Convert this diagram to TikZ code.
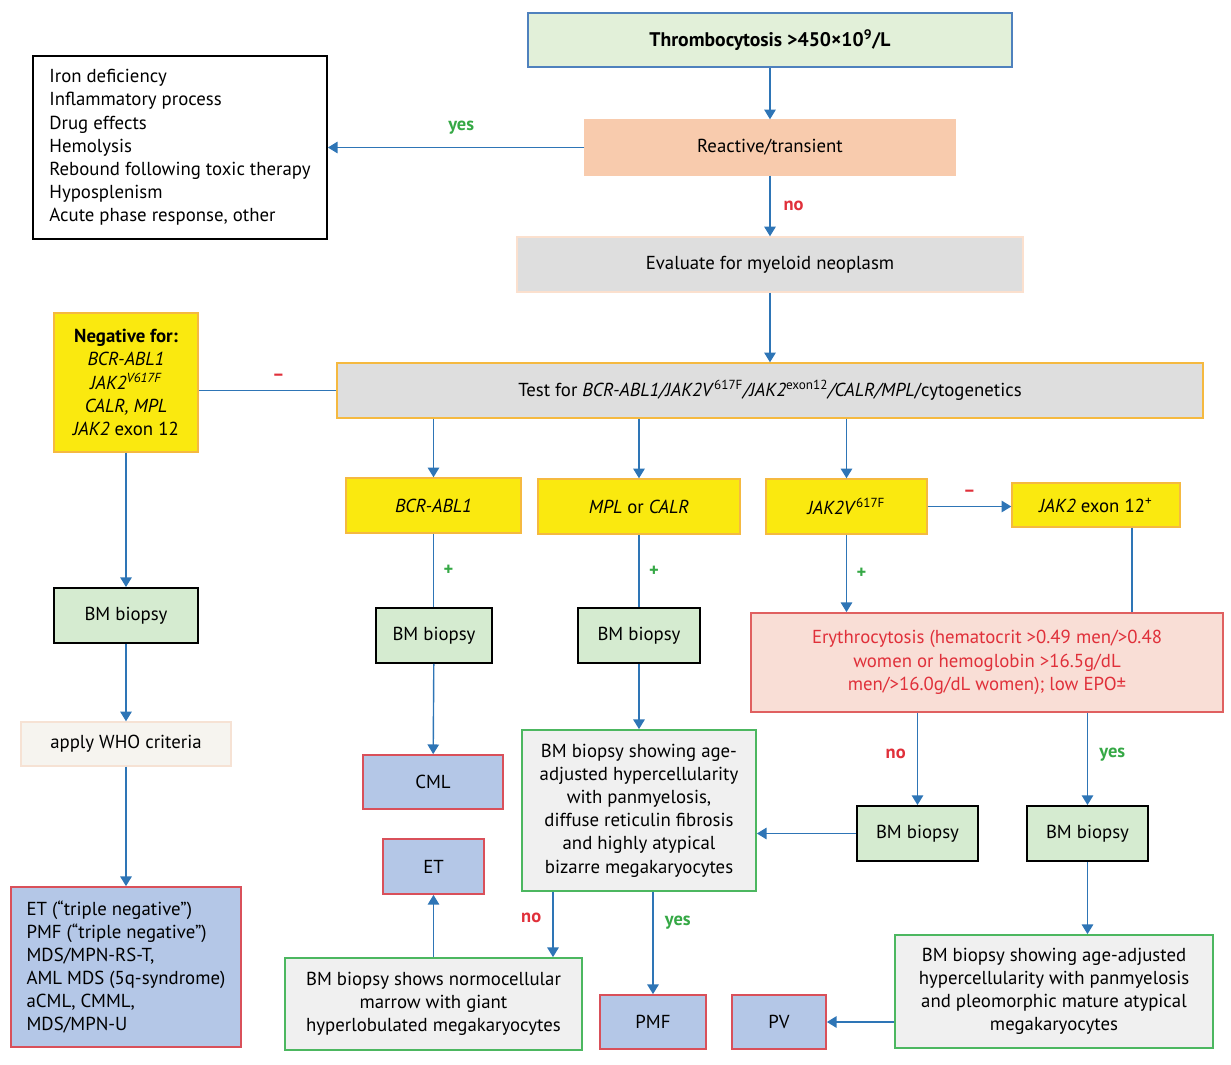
\documentclass[tikz,border=0pt]{standalone}
\usepackage{fontspec}
\setmainfont{PT Sans}
\usetikzlibrary{arrows.meta,calc}
\definecolor{arrblue}{HTML}{2E75B6}
\definecolor{lblred}{HTML}{E0303A}
\definecolor{lblgreen}{HTML}{35A845}
\definecolor{thrfill}{HTML}{E2F0D9}
\definecolor{thrline}{HTML}{4F81BD}
\definecolor{peach}{HTML}{F8CBAD}
\definecolor{greyfill}{HTML}{DEDEDE}
\definecolor{yelfill}{HTML}{FAE90F}
\definecolor{yelline}{HTML}{F5B940}
\definecolor{bmfill}{HTML}{D5EBD0}
\definecolor{eryfill}{HTML}{F9DED6}
\definecolor{eryline}{HTML}{E06060}
\definecolor{dxfill}{HTML}{B4C7E7}
\definecolor{dxline}{HTML}{D9505A}
\definecolor{histfill}{HTML}{F0F0F0}
\definecolor{histline}{HTML}{4CB760}
\definecolor{whofill}{HTML}{F6F4EF}
\definecolor{wholine}{HTML}{F6E2D4}
\begin{document}
\begin{tikzpicture}[x=0.02cm,y=-0.02cm,
    font=\fontsize{10.7}{13.2}\selectfont,
    box/.style={draw,line width=0.8pt,inner sep=2pt,align=center},
    gene/.style={box,fill=yelfill,draw=yelline},
    bmbox/.style={box,fill=bmfill,draw=black,line width=1.1pt,minimum height=1.1cm},
    dxbox/.style={box,fill=dxfill,draw=dxline,line width=1pt},
    histbox/.style={box,fill=histfill,draw=histline,line width=1pt},
    arr/.style={draw=arrblue,line width=0.8pt,-{Triangle[length=5.5pt,width=6.5pt]}},
    con/.style={draw=arrblue,line width=0.8pt},
    lblno/.style={text=lblred,font=\fontsize{10.5}{12}\selectfont\bfseries},
    lblyes/.style={text=lblgreen,font=\fontsize{10.5}{12}\selectfont\bfseries},
    sign/.style={font=\fontsize{10.5}{12}\selectfont\bfseries}]
\useasboundingbox (0,0) rectangle (1231,1065);

% top of the chart
\node[box,fill=thrfill,draw=thrline,minimum width=9.68cm,minimum height=1.08cm,font=\fontsize{11.2}{13}\selectfont\bfseries] (thromb) at (770,40) {Thrombocytosis >450×10\textsuperscript{9}/L};
\node[box,fill=peach,draw=peach,minimum width=7.4cm,minimum height=1.1cm] (reactive) at (770,147.5) {Reactive/transient};
\node[box,draw=black,line width=1pt,minimum width=5.88cm,minimum height=3.66cm,align=left] (causes) at (180,147.5) {Iron deficiency\\Inflammatory process\\Drug effects\\Hemolysis\\Rebound following toxic therapy\\Hyposplenism\\Acute phase response, other};
\node[box,fill=greyfill,draw=peach!60,minimum width=10.12cm,minimum height=1.1cm] (evaluate) at (770,264.5) {Evaluate for myeloid neoplasm};
\node[box,fill=greyfill,draw=yelline,minimum width=17.32cm,minimum height=1.1cm] (test) at (770,390.5) {Test for \textit{BCR-ABL1/JAK2V}\textsuperscript{617F}\textit{/JAK2}\textsuperscript{exon12}\textit{/CALR/MPL}/cytogenetics};

% gene results
\node[gene,minimum width=2.88cm,minimum height=2.78cm] (neg) at (126,382.5) {\textbf{Negative for:}\\\textit{BCR-ABL1}\\\textit{JAK2\textsuperscript{V617F}}\\\textit{CALR, MPL}\\\textit{JAK2} exon 12};
\node[gene,minimum width=3.5cm,minimum height=1.1cm] (bcr) at (433.5,505.5) {\textit{BCR-ABL1}};
\node[gene,minimum width=4.04cm,minimum height=1.1cm] (mpl) at (639,506.5) {\textit{MPL} or \textit{CALR}};
\node[gene,minimum width=3.22cm,minimum height=1.1cm] (jak) at (846.5,506.5) {\textit{JAK2V}\textsuperscript{617F}};
\node[gene,minimum width=3.36cm,minimum height=0.88cm] (exon) at (1096,505) {\textit{JAK2} exon 12\textsuperscript{+}};

% biopsies
\node[bmbox,minimum width=2.88cm] (bmneg) at (126,615.5) {BM biopsy};
\node[bmbox,minimum width=2.32cm] (bmbcr) at (434,635.5) {BM biopsy};
\node[bmbox,minimum width=2.44cm] (bmmpl) at (639,635.5) {BM biopsy};
\node[box,fill=eryfill,draw=eryline,line width=1pt,text=lblred,minimum width=9.44cm,minimum height=1.98cm] (ery) at (987,662.5) {Erythrocytosis (hematocrit >0.49 men/>0.48\\women or hemoglobin >16.5g/dL\\men/>16.0g/dL women); low EPO±};
\node[box,fill=whofill,draw=wholine,minimum width=4.2cm,minimum height=0.88cm] (who) at (126,744) {apply WHO criteria};
\node[bmbox,minimum width=2.42cm] (bmno) at (917.5,833.5) {BM biopsy};
\node[bmbox,minimum width=2.42cm] (bmyes) at (1087.5,833.5) {BM biopsy};

% findings and diagnoses
\node[histbox,minimum width=4.68cm,minimum height=3.22cm] (pmfhist) at (639,810.5) {BM biopsy showing age-\\adjusted hypercellularity\\with panmyelosis,\\diffuse reticulin fibrosis\\and highly atypical\\bizarre megakaryocytes};
\node[histbox,minimum width=5.94cm,minimum height=1.84cm] (ethist) at (433.5,1004) {BM biopsy shows normocellular\\marrow with giant\\hyperlobulated megakaryocytes};
\node[histbox,minimum width=6.36cm,minimum height=2.26cm] (pvhist) at (1054,991.5) {BM biopsy showing age-adjusted\\hypercellularity with panmyelosis\\and pleomorphic mature atypical\\megakaryocytes};
\node[dxbox,minimum width=2.8cm,minimum height=1.08cm] (cml) at (433,782) {CML};
\node[dxbox,minimum width=2.02cm,minimum height=1.1cm] (et) at (433.5,866.5) {ET};
\node[dxbox,minimum width=2.12cm,minimum height=1.08cm] (pmf) at (653,1022) {PMF};
\node[dxbox,minimum width=1.88cm,minimum height=1.08cm] (pv) at (779,1022) {PV};
\node[dxbox,minimum width=4.6cm,minimum height=3.2cm,align=left] (dxneg) at (126,967) {ET (“triple negative”)\\PMF (“triple negative”)\\MDS/MPN-RS-T,\\AML MDS (5q-syndrome)\\aCML, CMML,\\MDS/MPN-U};

\coordinate (xno) at (553,0);

% connectors
\draw[arr] (thromb) -- (reactive);
\draw[arr] (reactive) -- node[lblno,right,xshift=4pt] (noA) {no} (evaluate);
\draw[arr] (reactive.west) -- node[lblyes,above,pos=0.48,yshift=4pt] (yesA) {yes} (causes.east);
\draw[arr] (evaluate) -- (test);
\draw[con] (test.west) -- node[sign,text=lblred,above,yshift=2pt,pos=0.42] (minA) {–} (test.west -| neg.east);
\draw[arr] (neg) -- (bmneg);
\draw[arr] (bcr.north |- test.south) -- (bcr.north);
\draw[arr] (mpl.north |- test.south) -- (mpl.north);
\draw[arr] (jak.north |- test.south) -- (jak.north);
\draw[arr] (jak.east) -- node[sign,text=lblred,above,yshift=2pt] (minB) {–} (jak.east -| exon.west);
\draw[con] (bcr.south) -- node[sign,text=lblgreen,right,xshift=2pt] (plA) {+} (bcr.south |- bmbcr.north);
\draw[con] (mpl.south) -- node[sign,text=lblgreen,right,xshift=2pt] (plB) {+} (bmmpl.north);
\draw[arr] (jak.south) -- node[sign,text=lblgreen,right,xshift=2pt] (plC) {+} (jak.south |- ery.north);
\draw[con] ([xshift=0.72cm]exon.south) -- ([xshift=0.72cm]exon.south |- ery.north);
\draw[arr] (bmneg) -- (who);
\draw[arr] (who) -- (dxneg);
\draw[arr] (bmbcr) -- (cml);
\draw[arr] (bmmpl) -- (pmfhist);
\draw[arr] (bmno.north |- ery.south) -- node[lblno,left,xshift=-3pt,pos=0.45] (noB) {no} (bmno.north);
\draw[arr] (bmyes.north |- ery.south) -- node[lblyes,right,xshift=3pt,pos=0.45] (yesB) {yes} (bmyes.north);
\draw[arr] (bmno.west) -- (bmno.west -| pmfhist.east);
\draw[arr] (bmyes.south) -- (bmyes.south |- pvhist.north);
\draw[arr] (pv.east -| pvhist.west) -- (pv.east);
\draw[arr] (xno |- pmfhist.south) -- node[lblno,left,xshift=-3pt,pos=0.4] (noC) {no} (xno |- ethist.north);
\draw[arr] (pmf.north |- pmfhist.south) -- node[lblyes,right,xshift=3pt,pos=0.3] (yesC) {yes} (pmf.north);
\draw[arr] (ethist.north) -- (et.south);
\end{tikzpicture}
\end{document}
